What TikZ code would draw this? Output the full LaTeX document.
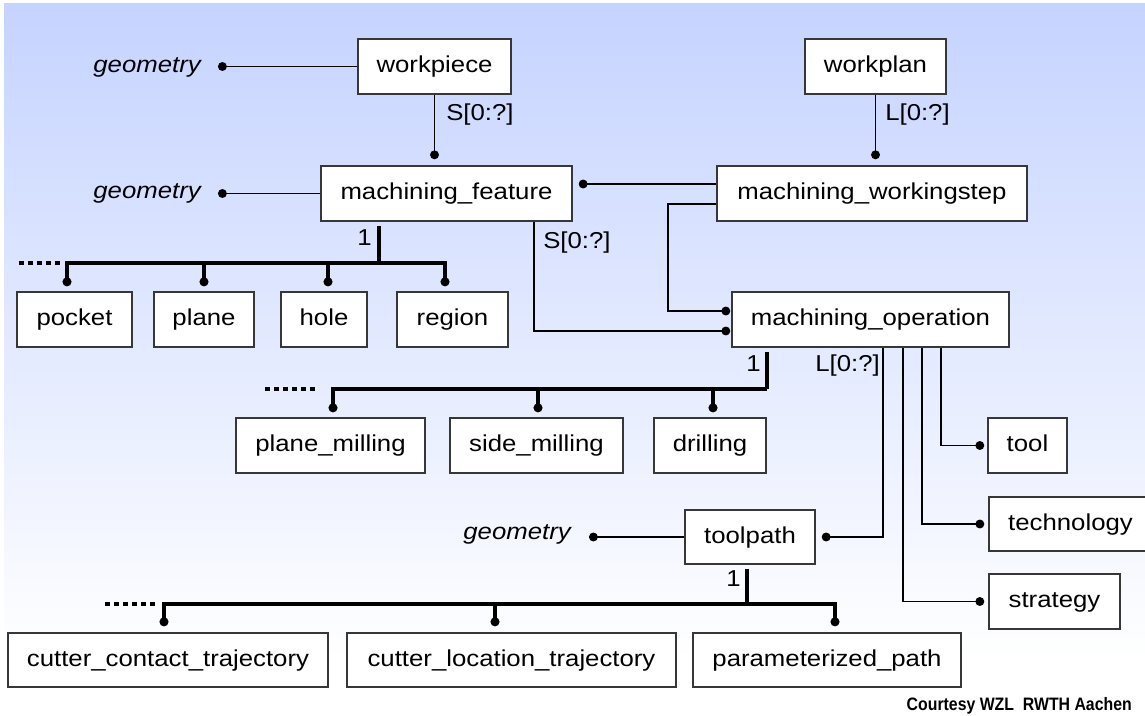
\documentclass[tikz,border=0pt]{standalone}
\usepackage{fontspec}
\setmainfont{Liberation Sans}[FakeStretch=1.12]
\newfontfamily\narrowfont{Liberation Sans}[FakeStretch=0.88]
\usetikzlibrary{arrows.meta,calc}
\definecolor{bgtop}{RGB}{197,211,255}
\definecolor{boxline}{RGB}{55,55,55}
\newcommand\bx[6]{\node[box, minimum width={(#4-#2)*0.75pt}, minimum height={(#5-#3)*0.75pt}] (#1) at ({(#2+#4)/2},{(#3+#5)/2}) {#6};}
\begin{document}
\begin{tikzpicture}[x=0.75pt,y=-0.75pt,
  lbl/.style={font=\fontsize{17.25pt}{20pt}\selectfont, inner sep=0pt, text=black,
              text height=12.6pt, text depth=3.6pt},
  geo/.style={font=\fontsize{17.25pt}{20pt}\selectfont\itshape, inner sep=0pt, text=black,
              text height=12.6pt, text depth=3.6pt},
  box/.style={draw=boxline, line width=1.15pt, fill=white, inner sep=0pt, text=black,
              font=\fontsize{17.25pt}{20pt}\selectfont, text height=12.6pt, text depth=3.6pt},
  conn/.style={line width=1.45pt, -{Circle[length=6.6pt]}},
  tree/.style={line width=3pt},
  treedot/.style={line width=3pt, -{Circle[length=6.6pt]}},
  dots/.style={line width=3pt, dash pattern=on 3.75pt off 3pt},
]
\clip (0,0) rectangle (1145,716);
\fill[white] (0,0) rectangle (1145,716);
\shade[top color=bgtop, bottom color=white] (4,4) rectangle (1145,660);

% boxes
\bx{wp}{358}{39}{511}{94}{workpiece}
\bx{wpl}{805}{39}{946}{94}{workplan}
\bx{mf}{321}{166}{572}{221}{machining\_feature}
\bx{mws}{717}{166}{1027}{221}{machining\_workingstep}
\bx{pocket}{17}{292}{132}{347}{pocket}
\bx{plane}{154}{292}{254}{347}{plane}
\bx{hole}{281}{292}{367}{347}{hole}
\bx{region}{397}{292}{508}{347}{region}
\bx{mo}{732}{292}{1009}{347}{machining\_operation}
\bx{pm}{236}{418}{425}{473}{plane\_milling}
\bx{sm}{450}{418}{623}{473}{side\_milling}
\bx{dr}{654}{418}{766}{473}{drilling}
\bx{tool}{988}{418}{1067}{473}{tool}
\bx{tech}{989}{497}{1152}{551}{technology}
\bx{strat}{989}{574}{1120}{629}{strategy}
\bx{tp}{685}{510}{815}{564}{toolpath}
\bx{cct}{8}{633}{328}{687}{cutter\_contact\_trajectory}
\bx{clt}{347}{633}{676}{687}{cutter\_location\_trajectory}
\bx{pp}{693}{633}{961}{687}{parameterized\_path}

% geometry labels
\node[geo, anchor=east] (geo1) at (201,67) {geometry};
\node[geo, anchor=east] (geo2) at (201,193) {geometry};
\node[geo, anchor=east] (geo3) at (571,533) {geometry};

% cardinality labels
\node[lbl, anchor=west] (s1) at (446,115) {S[0:?]};
\node[lbl, anchor=west] (l1) at (885,115) {L[0:?]};
\node[lbl, anchor=west] (s2) at (543,243) {S[0:?]};
\node[lbl, anchor=east] (one1) at (372,240) {1};
\node[lbl, anchor=east] (l2) at (880,365) {L[0:?]};
\node[lbl, anchor=east] (one2) at (761,365) {1};
\node[lbl, anchor=east] (one3) at (741,580) {1};

\node[font=\narrowfont\bfseries\fontsize{13.5pt}{16pt}\selectfont, anchor=east, inner sep=0pt, text=black] (court) at (1132,706) {Courtesy WZL\ \ RWTH Aachen};

% helper coordinates on machining_workingstep / machining_operation
\coordinate (ws1) at ($(mws.west)+(0,-9.5)$);
\coordinate (ws2) at ($(mws.west)+(0,10.5)$);
\coordinate (op1) at ($(mo.west)+(0,-8.5)$);
\coordinate (op2) at ($(mo.west)+(0,11.5)$);
\coordinate (bend) at ($(op1)+(-63,0)$);

% thin connectors
\draw[conn, shorten >=12.75pt] (wp.west) -- (wp.west -| geo1.east);
\draw[conn, shorten >=12.75pt] (mf.west) -- (mf.west -| geo2.east);
\draw[conn, shorten >=13.5pt] (tp.west) -- (tp.west -| geo3.east);
\draw[conn, shorten >=4.5pt] (wp.south) -- (wp.south |- mf.north);
\draw[conn, shorten >=4.5pt] (wpl.south) -- (wpl.south |- mws.north);
\draw[conn, shorten >=4.5pt] (ws1) -- (ws1 -| mf.east);
\draw[conn, shorten >=0.75pt] (ws2) -| (bend) -- (op1);
\draw[conn, shorten >=0.75pt] ($(mf.south)+(87.5,0)$) |- (op2);
\draw[conn, shorten >=4.5pt] ($(mo.south)+(12.5,0)$) |- (tp.east);
\draw[conn, shorten >=3pt] ($(mo.south)+(32.5,0)$) |- (strat.west);
\draw[conn, shorten >=3pt] ($(mo.south)+(51.5,0)$) |- (tech.west);
\draw[conn, shorten >=2.25pt] ($(mo.south)+(70.5,0)$) |- (tool.west);

% tree 1: machining_feature
\coordinate (j1) at (379,263);
\draw[tree] ($(j1 |- mf.south)+(0,4)$) -- (j1);
\draw[treedot, shorten >=3.75pt] (j1) -| ($(pocket.north)+(-7.5,0)$);
\draw[treedot, shorten >=3.75pt] (j1) -| (plane.north);
\draw[treedot, shorten >=3.75pt] (j1) -| ($(hole.north)+(4,0)$);
\draw[treedot, shorten >=3.75pt] (j1) -| ($(region.north)+(-7.5,0)$);
\draw[dots] ($(pocket.north |- j1)+(-56,0)$) -- ++(43,0);

% tree 2: machining_operation
\coordinate (j2) at (767,389);
\draw[tree] ($(j2 |- mo.south)+(0,4)$) -- (j2);
\draw[treedot, shorten >=3.75pt] (j2) -| ($(pm.north)+(2.5,0)$);
\draw[treedot, shorten >=3.75pt] (j2) -| ($(sm.north)+(1.5,0)$);
\draw[treedot, shorten >=3.75pt] (j2) -| ($(dr.north)+(3,0)$);
\draw[dots] ($(pm.north |- j2)+(-65.5,0)$) -- ++(53,0);

% tree 3: toolpath
\coordinate (j3) at (747,604);
\draw[tree] ($(tp.south -| j3)+(0,4)$) -- (j3);
\draw[treedot, shorten >=4.5pt] (j3) -| ($(cct.north)+(-4,0)$);
\draw[treedot, shorten >=4.5pt] (j3) -| ($(clt.north)+(-16.5,0)$);
\draw[treedot, shorten >=4.5pt] (j3) -| ($(pp.north)+(8,0)$);
\draw[dots] ($(cct.north |- j3)+(-63,0)$) -- ++(54,0);
\end{tikzpicture}
\end{document}
